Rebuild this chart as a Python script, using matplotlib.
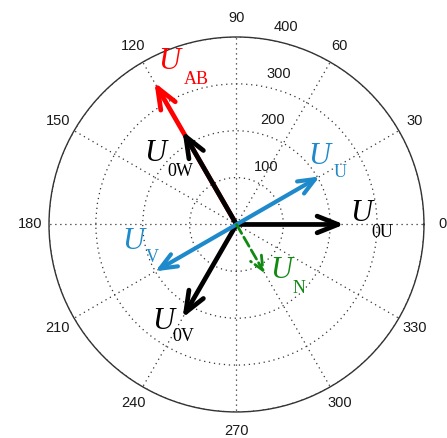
import numpy as np
import matplotlib.pyplot as plt

# Phasors: angle (deg), magnitude, colour, label parts, label offsets (px)
names = ['U_AB', 'U_0U', 'U_0V', 'U_0W', 'U_U', 'U_V', 'U_N']
angles = [120, 0, 240, 120, 30, 210, 300]
mags = [350, 230, 230, 230, 205, 200, 120]
colors = ['#ff0000', 'black', 'black', 'black', '#1f8acb', '#1f8acb', '#118a11']
subs = ['AB', '0U', '0V', '0W', 'U', 'V', 'N']
u_off = [(15, 21), (17, 11), (-19, -4), (-27, -22), (0, 20), (-22, 30), (17, 3)]
s_off = [(42, 3), (38, -8), (1, -19), (-2, -40), (20, 4), (-3, 14), (34, -15)]

theta_ticks = list(range(0, 360, 30))
r_ticks = [100, 200, 300, 400]
r_max = 400

fig = plt.figure(figsize=(4.47, 4.38), dpi=100)
ax = fig.add_axes([0.1096, 0.0594, 0.8389, 0.8562], projection='polar')
ax.set_ylim(0, r_max)
ax.set_xticks(np.radians(theta_ticks))
ax.set_yticks(r_ticks)
ax.set_xticklabels([])
ax.set_yticklabels([])
ax.grid(True, color='#333333', linestyle=(0, (1, 3)), linewidth=0.9)
ax.spines['polar'].set_color('#333333')
ax.spines['polar'].set_linewidth(1.0)

tick_font = dict(family='Liberation Sans', size=10.5, color='#1a1a1a')

# angle labels just outside the outer ring
for t in theta_ticks:
    ax.text(np.radians(t), 1.1 * r_max, str(t), ha='center', va='center',
            clip_on=False, **tick_font)

# radius labels along the 82 degree spoke, nudged up and right
for r in r_ticks:
    ax.annotate(str(r), xy=(np.radians(82), r), xytext=(23, 11.5),
                textcoords='offset pixels', ha='center', va='center',
                annotation_clip=False, **tick_font)

# arrows
for name, a, m, c in zip(names, angles, mags, colors):
    dashed = name == 'U_N'
    if dashed:
        style, lw = '->,head_length=1.0,head_width=0.45', 2.0
    elif c == '#1f8acb':
        style, lw = '->,head_length=1.2,head_width=0.5', 3.0
    else:
        style, lw = '->,head_length=1.5,head_width=0.6', 3.4
    ax.annotate('', xy=(np.radians(a), m), xytext=(0, 0),
                arrowprops=dict(arrowstyle=style, color=c, lw=lw,
                                linestyle='--' if dashed else '-',
                                shrinkA=0, shrinkB=0))

# labels: italic U plus upright subscript
for a, m, c, s, uo, so in zip(angles, mags, colors, subs, u_off, s_off):
    tip = (np.radians(a), m)
    ax.annotate('U', xy=tip, xytext=uo, textcoords='offset pixels',
                ha='center', va='center', color=c, family='Liberation Serif',
                style='italic', size=22, annotation_clip=False)
    ax.annotate(s, xy=tip, xytext=so, textcoords='offset pixels',
                ha='center', va='center', color=c, family='Liberation Serif',
                size=13, annotation_clip=False)

fig.savefig('out.png', dpi=100)
